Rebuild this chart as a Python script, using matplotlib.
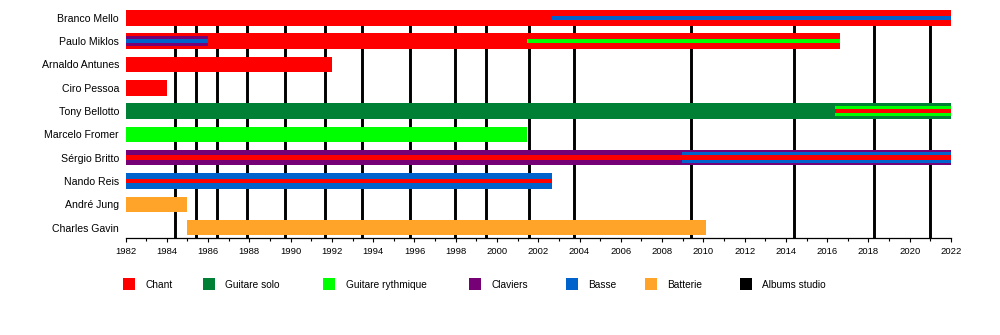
import matplotlib
matplotlib.use("Agg")
import matplotlib.pyplot as plt
from matplotlib.patches import Rectangle
from matplotlib.ticker import MultipleLocator

plt.rcParams['font.family'] = ['Liberation Sans', 'DejaVu Sans']

# Band members, top to bottom
members = ['Branco Mello', 'Paulo Miklos', 'Arnaldo Antunes', 'Ciro Pessoa',
           'Tony Bellotto', 'Marcelo Fromer', 'Sérgio Britto', 'Nando Reis',
           'André Jung', 'Charles Gavin']

roles = ['Chant', 'Guitare solo', 'Guitare rythmique', 'Claviers', 'Basse',
         'Batterie', 'Albums studio']
role_colors = ['#FF0000', '#008035', '#00FF00', '#760076', '#0063CC',
               '#FFA428', '#000000']

# (member, role, start, end) - main bars
main_bars = [
    ('Branco Mello', 'Chant', 1982.0, 2022.0),
    ('Paulo Miklos', 'Chant', 1982.0, 2016.6),
    ('Arnaldo Antunes', 'Chant', 1982.0, 1992.0),
    ('Ciro Pessoa', 'Chant', 1982.0, 1984.0),
    ('Tony Bellotto', 'Guitare solo', 1982.0, 2022.0),
    ('Marcelo Fromer', 'Guitare rythmique', 1982.0, 2001.45),
    ('Sérgio Britto', 'Claviers', 1982.0, 2022.0),
    ('Nando Reis', 'Basse', 1982.0, 2002.65),
    ('André Jung', 'Batterie', 1982.0, 1985.0),
    ('Charles Gavin', 'Batterie', 1985.0, 2010.12),
]

# secondary roles, drawn as a stripe inside the main bar
middle_stripes = [
    ('Paulo Miklos', 'Claviers', 1982.0, 1986.0),
    ('Tony Bellotto', 'Guitare rythmique', 2016.4, 2022.0),
    ('Sérgio Britto', 'Basse', 2008.95, 2022.0),
]

# third roles, drawn as a thin stripe in the centre of the bar
inner_stripes = [
    ('Branco Mello', 'Basse', 2002.65, 2022.0),
    ('Paulo Miklos', 'Basse', 1982.0, 1986.0),
    ('Paulo Miklos', 'Guitare rythmique', 2001.45, 2016.6),
    ('Tony Bellotto', 'Chant', 2016.4, 2022.0),
    ('Sérgio Britto', 'Chant', 1982.0, 2022.0),
    ('Nando Reis', 'Chant', 1982.0, 2002.65),
]

# studio album release dates
albums = [1984.4, 1985.42, 1986.45, 1987.87, 1989.75, 1991.68, 1993.48,
          1995.8, 1997.98, 1999.45, 2001.55, 2003.72, 2009.4, 2014.4,
          2018.27, 2020.98]

year_start, year_end = 1982, 2022

W, H = 1000, 335
fig = plt.figure(figsize=(W / 100, H / 100), dpi=100)
ax = fig.add_axes([125.5 / W, (H - 237.5) / H, (951 - 125.5) / W, 229.5 / H])

color_of = dict(zip(roles, role_colors))
row_of = {m: i for i, m in enumerate(members)}

layers = [(main_bars, 0.665, 2), (middle_stripes, 0.455, 3), (inner_stripes, 0.2, 4)]
for spans, height, z in layers:
    for member, role, start, end in spans:
        ax.barh(row_of[member], end - start, left=start, height=height,
                color=color_of[role], linewidth=0, zorder=z)

y_bottom = len(members) - 1 + 0.4226
# album markers run from the first row down to the time axis, behind the bars
ax.vlines(albums, 0, y_bottom, color='black', linewidth=2.1, zorder=1)

ax.set_xlim(year_start, year_end)
ax.set_ylim(y_bottom, -0.4226)

ax.set_yticks(range(len(members)))
ax.set_yticklabels(members, fontsize=7.6)
ax.tick_params(axis='y', length=0, pad=4.7)

ax.xaxis.set_major_locator(MultipleLocator(2))
ax.xaxis.set_minor_locator(MultipleLocator(1))
ax.tick_params(axis='x', which='major', length=3.2, width=0.8, labelsize=6.8,
               pad=3.6, colors='black')
ax.tick_params(axis='x', which='minor', length=1.8, width=0.8)

for side in ('top', 'left', 'right'):
    ax.spines[side].set_visible(False)
ax.spines['bottom'].set_linewidth(0.9)
ax.spines['bottom'].set_zorder(5)

# legend row below the axis
legend_square_x = [123, 202.5, 323, 468.5, 566, 645, 740]
text_gap = 22.5
for role, color, sx in zip(roles, role_colors, legend_square_x):
    fig.add_artist(Rectangle((sx / W, (H - 290) / H), 12 / W, 11.7 / H,
                             transform=fig.transFigure, facecolor=color,
                             edgecolor='none'))
    fig.text((sx + text_gap) / W, (H - 285.3) / H, role, fontsize=7.3,
             ha='left', va='center', color='black')

fig.savefig('out.png', dpi=100)
